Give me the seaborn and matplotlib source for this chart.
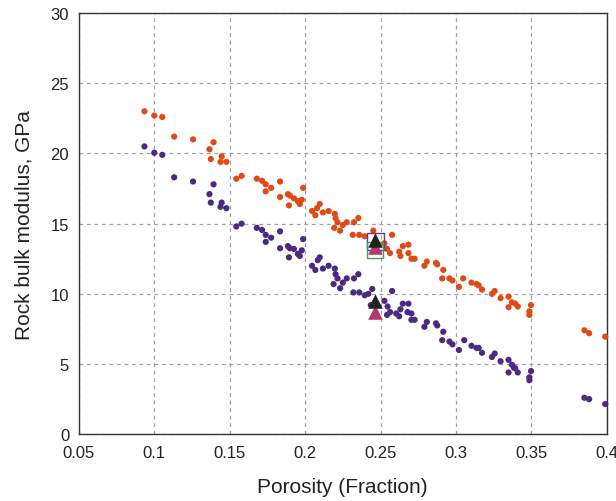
import numpy as np
import pandas as pd
import matplotlib
matplotlib.use("Agg")
import matplotlib.pyplot as plt
import seaborn as sns

# ---- data ----
orange_x = [0.0935, 0.1000, 0.1053, 0.1132, 0.1257, 0.1393, 0.1366, 0.1375, 0.1447, 0.1439,
            0.1478, 0.1544, 0.1579,
            0.1680, 0.1715, 0.1739, 0.1739, 0.1775, 0.1834, 0.1834, 0.1886, 0.1899, 0.1926,
            0.1893, 0.1952, 0.1965, 0.1978, 0.1987, 0.2046, 0.2068, 0.2079, 0.2097, 0.2118,
            0.2156, 0.2197, 0.2202, 0.2215, 0.2193, 0.2232, 0.2250, 0.2276, 0.2324, 0.2353,
            0.2316, 0.2359, 0.2395,
            0.2452, 0.2577, 0.2526, 0.2543, 0.2563, 0.2624, 0.2632, 0.2648, 0.2685, 0.2685,
            0.2705, 0.2726, 0.2791, 0.2807, 0.2868, 0.2876, 0.2916, 0.2909, 0.2957, 0.2977,
            0.3020, 0.3048, 0.3103,
            0.3136, 0.3151, 0.3173, 0.3239, 0.3257, 0.3296, 0.3349, 0.3349, 0.3371, 0.3393,
            0.3410, 0.3498, 0.3487, 0.3487, 0.3852, 0.3883, 0.3990]
orange_y = [23.0, 22.7, 22.6, 21.2, 21.0, 20.8, 20.3, 19.6, 19.8, 19.4,
            19.4, 18.2, 18.4,
            18.2, 18.05, 17.8, 17.3, 17.55, 18.0, 16.9, 17.1, 17.0, 16.8,
            16.3, 16.6, 16.4, 16.7, 17.55, 15.9, 15.6, 16.1, 16.4, 15.8,
            15.9, 15.7, 15.4, 15.1, 14.7, 14.5, 14.9, 15.1, 15.1, 15.4,
            14.2, 14.2, 14.1,
            14.5, 14.2, 13.6, 13.2, 12.9, 13.0, 12.7, 13.4, 13.5, 12.9,
            12.5, 12.5, 12.0, 12.3, 12.2, 12.1, 11.7, 11.1, 11.1, 10.95,
            10.5, 11.1, 10.8,
            10.7, 10.6, 10.3, 10.0, 10.2, 9.7, 9.8, 9.05, 9.4, 9.3,
            9.1, 9.2, 8.75, 8.5, 7.4, 7.2, 6.95]

purple_x = [0.0935, 0.1000, 0.1053, 0.1132, 0.1257, 0.1393, 0.1366, 0.1375, 0.1447, 0.1439,
            0.1478, 0.1544, 0.1579,
            0.1680, 0.1715, 0.1739, 0.1739, 0.1775, 0.1834, 0.1834, 0.1886, 0.1899, 0.1926,
            0.1893, 0.1952, 0.1965, 0.1978, 0.1987, 0.2046, 0.2068, 0.2084, 0.2097, 0.2118,
            0.2156, 0.2197, 0.2202, 0.2215, 0.2189, 0.2232, 0.2250, 0.2276, 0.2324, 0.2353,
            0.2320, 0.2359, 0.2395,
            0.2419, 0.2445, 0.2436, 0.2577, 0.2526, 0.2547, 0.2563, 0.2543, 0.2604, 0.2624,
            0.2632, 0.2648, 0.2685, 0.2679, 0.2705, 0.2705, 0.2726, 0.2791, 0.2807, 0.2868,
            0.2876, 0.2916, 0.2909, 0.2957, 0.2977, 0.3020, 0.3055, 0.3103,
            0.3136, 0.3151, 0.3173, 0.3239, 0.3257, 0.3296, 0.3349, 0.3349, 0.3371, 0.3384,
            0.3393, 0.3410, 0.3498, 0.3487, 0.3487, 0.3852, 0.3883, 0.3990]
purple_y = [20.5, 20.05, 19.9, 18.3, 18.0, 17.8, 17.1, 16.5, 16.5, 16.2,
            16.1, 14.8, 15.0,
            14.7, 14.55, 14.2, 13.7, 14.0, 14.45, 13.25, 13.4, 13.25, 13.2,
            12.6, 12.85, 12.7, 13.1, 13.9, 12.0, 11.7, 12.4, 12.6, 11.8,
            12.0, 11.8, 11.4, 11.1, 10.7, 10.4, 10.8, 11.1, 11.1, 11.4,
            10.1, 10.1, 9.9,
            10.0, 10.35, 9.2, 10.2, 9.5, 9.1, 8.7, 8.5, 8.6, 8.4,
            8.9, 9.3, 9.3, 8.7, 8.6, 8.15, 8.15, 7.65, 8.0, 7.9,
            7.75, 7.3, 6.7, 6.6, 6.4, 6.0, 6.7, 6.3,
            6.15, 6.15, 5.8, 5.5, 5.75, 5.2, 5.3, 4.4, 4.95, 4.75,
            4.7, 4.4, 4.5, 4.05, 3.85, 2.6, 2.5, 2.15]

black_tri_x = [0.2465, 0.2465]
black_tri_y = [13.8, 9.5]
pink_tri_x = [0.2465, 0.2465]
pink_tri_y = [13.35, 8.7]
purple_sq_x = [0.2465]
purple_sq_y = [13.75]
green_sq_x = [0.2465]
green_sq_y = [13.15]

x_ticks = [0.05, 0.1, 0.15, 0.2, 0.25, 0.3, 0.35, 0.4]
x_tick_labels = ["0.05", "0.1", "0.15", "0.2", "0.25", "0.3", "0.35", "0.4"]
y_ticks = [0, 5, 10, 15, 20, 25, 30]

df = pd.DataFrame({
    "porosity": orange_x + purple_x,
    "modulus": orange_y + purple_y,
    "series": ["orange"] * len(orange_x) + ["purple"] * len(purple_x),
})

sns.set_style("white")
plt.rcParams["font.family"] = ["Liberation Sans", "DejaVu Sans"]

fig = plt.figure(figsize=(6.16, 5.02), dpi=100)
ax = fig.add_axes([0.128, 0.133, 0.857, 0.839])

sns.scatterplot(data=df, x="porosity", y="modulus", hue="series",
                palette={"orange": "#e04a17", "purple": "#4a2a82"},
                s=20, linewidth=0, legend=False, ax=ax, clip_on=False, zorder=3)

sns.scatterplot(x=purple_sq_x, y=purple_sq_y, marker="s", s=150, facecolor="none",
                edgecolor="#5b3c96", linewidth=1.0, ax=ax, zorder=4, legend=False)
sns.scatterplot(x=green_sq_x, y=green_sq_y, marker="s", s=130, facecolor="none",
                edgecolor="#4c9a58", linewidth=1.0, ax=ax, zorder=4, legend=False)
sns.scatterplot(x=pink_tri_x, y=pink_tri_y, marker="^", s=110, color="#b03a6e",
                linewidth=0, ax=ax, zorder=5, legend=False)
sns.scatterplot(x=black_tri_x, y=black_tri_y, marker="^", s=110, color="#222222",
                linewidth=0, ax=ax, zorder=6, legend=False)

ax.set_xlim(0.05, 0.4)
ax.set_ylim(0, 30)
ax.set_xticks(x_ticks)
ax.set_xticklabels(x_tick_labels)
ax.set_yticks(y_ticks)

ax.grid(True, color="#a0a0a0", linestyle=(0, (3, 3)), linewidth=0.9)
ax.set_axisbelow(True)
for sp in ax.spines.values():
    sp.set_color("#333333")
    sp.set_linewidth(1.0)
ax.tick_params(axis="both", direction="in", length=4, width=0.8, colors="#333333",
               labelsize=12, labelcolor="#222222")
ax.tick_params(axis="x", pad=8)
ax.tick_params(axis="y", pad=7)

ax.set_xlabel("Porosity (Fraction)", fontsize=15, color="#222222", labelpad=12)
ax.set_ylabel("Rock bulk modulus, GPa", fontsize=15, color="#222222", labelpad=12)

fig.savefig("out.png", dpi=100)
